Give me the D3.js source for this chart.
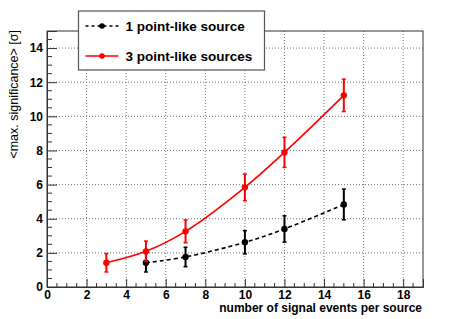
<!DOCTYPE html>
<html>
<head>
<meta charset="utf-8">
<script src="https://cdn.jsdelivr.net/npm/d3@7"></script>
<style>
  body { margin: 0; background: #fff; }
  svg { font-family: "Liberation Sans", Arial, sans-serif; }
</style>
</head>
<body>
<svg id="chart" width="471" height="319"></svg>
<script>
// data
const xOne = [5, 7, 10, 12, 15];
const yOne = [1.42, 1.76, 2.62, 3.4, 4.84];
const errOne = [0.54, 0.57, 0.68, 0.77, 0.9];

const xThree = [3, 5, 7, 10, 12, 15];
const yThree = [1.42, 2.09, 3.26, 5.84, 7.89, 11.23];
const errThree = [0.54, 0.6, 0.67, 0.78, 0.88, 0.95];

const xTicks = [0, 2, 4, 6, 8, 10, 12, 14, 16, 18];
const yTicks = [0, 2, 4, 6, 8, 10, 12, 14];
const legendLabels = ["1 point-like source", "3 point-like sources"];

const margin = { top: 31, right: 48, bottom: 32, left: 47 };
const width = 471 - margin.left - margin.right;
const height = 319 - margin.top - margin.bottom;

const svg = d3.select("#chart");
const g = svg.append("g")
    .attr("transform", `translate(${margin.left},${margin.top})`);

const x = d3.scaleLinear().domain([0, 19]).range([0, width]);
const y = d3.scaleLinear().domain([0, 15]).range([height, 0]);

// grid
g.selectAll(".gx")
    .data(xTicks.filter(d => d > 0))
    .enter().append("line")
    .attr("x1", d => x(d)).attr("x2", d => x(d))
    .attr("y1", 0).attr("y2", height)
    .attr("stroke", "#777").attr("stroke-width", 1)
    .attr("stroke-dasharray", "1,2");
g.selectAll(".gy")
    .data(yTicks.filter(d => d > 0))
    .enter().append("line")
    .attr("x1", 0).attr("x2", width)
    .attr("y1", d => y(d)).attr("y2", d => y(d))
    .attr("stroke", "#777").attr("stroke-width", 1)
    .attr("stroke-dasharray", "1,2");

// frame
g.append("rect")
    .attr("width", width).attr("height", height)
    .attr("fill", "none").attr("stroke", "#333").attr("stroke-width", 1);

// axes, ticks pointing inside like ROOT
const xAxis = d3.axisBottom(x).tickValues(xTicks).tickSize(-8).tickPadding(3);
const yAxis = d3.axisLeft(y).tickValues(yTicks).tickSize(-10).tickPadding(15);

const gx = g.append("g").attr("transform", `translate(0,${height})`).call(xAxis);
const gy = g.append("g").call(yAxis);
[gx, gy].forEach(a => {
    a.select(".domain").attr("stroke", "#333");
    a.selectAll(".tick line").attr("stroke", "#333");
    a.selectAll("text")
        .style("font-size", "12px").style("font-weight", "bold")
        .style("font-family", "Liberation Sans, Arial, sans-serif")
        .attr("fill", "#000");
});
gy.selectAll("text").attr("x", -4);

// minor ticks
g.selectAll(".mx")
    .data(d3.range(0.5, 19, 0.5).filter(d => d % 2 !== 0))
    .enter().append("line")
    .attr("x1", d => x(d)).attr("x2", d => x(d))
    .attr("y1", height).attr("y2", height - 4)
    .attr("stroke", "#333");
g.selectAll(".my")
    .data(d3.range(0.5, 15, 0.5).filter(d => d % 2 !== 0))
    .enter().append("line")
    .attr("x1", 0).attr("x2", 5)
    .attr("y1", d => y(d)).attr("y2", d => y(d))
    .attr("stroke", "#333");

// series
function drawSeries(xs, ys, es, color, dash) {
    const pts = xs.map((d, i) => ({ x: d, y: ys[i], e: es[i] }));
    const line = d3.line().x(d => x(d.x)).y(d => y(d.y)).curve(d3.curveCatmullRom);
    g.append("path")
        .datum(pts)
        .attr("d", line)
        .attr("fill", "none")
        .attr("stroke", color)
        .attr("stroke-width", 1.6)
        .attr("stroke-dasharray", dash);
    const eb = g.append("g").selectAll("g").data(pts).enter().append("g");
    eb.append("line")
        .attr("x1", d => x(d.x)).attr("x2", d => x(d.x))
        .attr("y1", d => y(d.y - d.e)).attr("y2", d => y(d.y + d.e))
        .attr("stroke", color).attr("stroke-width", 2);
    [-1, 1].forEach(s => {
        eb.append("line")
            .attr("x1", d => x(d.x) - 2).attr("x2", d => x(d.x) + 2)
            .attr("y1", d => y(d.y + s * d.e)).attr("y2", d => y(d.y + s * d.e))
            .attr("stroke", color).attr("stroke-width", 1.5);
    });
    eb.append("circle")
        .attr("cx", d => x(d.x)).attr("cy", d => y(d.y))
        .attr("r", 3.2).attr("fill", color);
}
drawSeries(xOne, yOne, errOne, "#000", "4,3");
drawSeries(xThree, yThree, errThree, "#ff0000", null);

// legend
const legend = svg.append("g").attr("transform", "translate(78.5,11)");
legend.append("rect")
    .attr("width", 186).attr("height", 59)
    .attr("fill", "#fff").attr("stroke", "#555").attr("stroke-width", 1.2);
const legColors = ["#000", "#ff0000"];
const legDash = ["3,3", null];
legendLabels.forEach((t, i) => {
    const yy = 15 + i * 30;
    legend.append("line")
        .attr("x1", 7).attr("x2", 40).attr("y1", yy).attr("y2", yy)
        .attr("stroke", legColors[i]).attr("stroke-width", 1.5)
        .attr("stroke-dasharray", legDash[i]);
    legend.append("circle").attr("cx", 23.5).attr("cy", yy).attr("r", 2.8).attr("fill", legColors[i]);
    legend.append("text")
        .attr("x", 47).attr("y", yy + 5)
        .style("font-size", "13.5px").style("font-weight", "bold")
        .text(t);
});

// axis titles
svg.append("text")
    .attr("x", margin.left + width - 1).attr("y", 312)
    .attr("text-anchor", "end")
    .style("font-size", "12px").style("font-weight", "bold")
    .text("number of signal events per source");
svg.append("text")
    .attr("transform", "translate(18,30) rotate(-90)")
    .attr("text-anchor", "end")
    .style("font-size", "12.5px")
    .text("<max. significance> [σ]");
</script>
</body>
</html>
